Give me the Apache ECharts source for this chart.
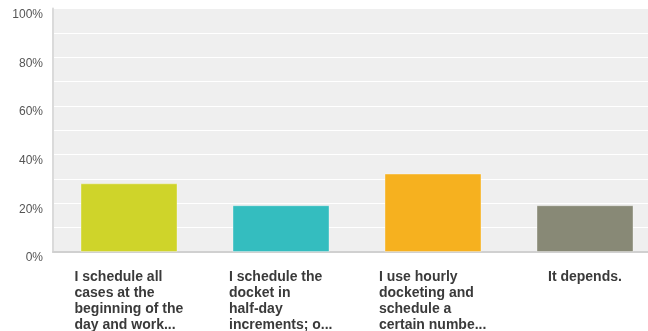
<!DOCTYPE html>
<html>
<head>
<meta charset="utf-8">
<script src="https://cdn.jsdelivr.net/npm/echarts@6/dist/echarts.min.js"></script>
<style>
  html, body { margin: 0; padding: 0; background: #fff; }
  #chart { width: 648px; height: 331px; }
</style>
</head>
<body>
<div id="chart"></div>
<script>
// Answer options (wrapped the way they are shown under each bar)
const categories = [
  'I schedule all\ncases at the\nbeginning of the\nday and work...',
  'I schedule the\ndocket in\nhalf-day\nincrements; o...',
  'I use hourly\ndocketing and\nschedule a\ncertain numbe...',
  'It depends.'
];
// Share of responses, percent
const values = [28.2, 19.2, 32.2, 19.2];
const barColors = ['#cfd42a', '#34bdbf', '#f6b11f', '#888976'];
const yTicks = [0, 20, 40, 60, 80, 100];

const labelFont = 'bold 14px "Liberation Sans", Arial, sans-serif';

// Width of the widest line of each label, so the block is centred under
// its bar while the lines stay left aligned.
const ctx = document.createElement('canvas').getContext('2d');
ctx.font = labelFont;
const blockWidths = categories.map(c =>
  Math.ceil(Math.max(...c.split('\n').map(l => ctx.measureText(l).width)))
);
const rich = {};
blockWidths.forEach((w, i) => {
  rich['r' + i] = {
    width: w, align: 'left', fontSize: 14, fontWeight: 'bold',
    fontFamily: '"Liberation Sans", Arial, sans-serif', color: '#3a3a3a',
    lineHeight: 16
  };
});

const chart = echarts.init(document.getElementById('chart'), null, { renderer: 'canvas' });
chart.setOption({
  animation: false,
  grid: {
    show: true, backgroundColor: '#efefef', borderWidth: 0,
    left: 53, top: 8.5, width: 608, height: 243.5,
    outerBoundsMode: 'none', containLabel: false
  },
  xAxis: {
    type: 'category',
    data: categories,
    axisLine: { show: true, lineStyle: { color: '#d0d0d0', width: 2 } },
    axisTick: { show: false },
    axisLabel: {
      interval: 0, margin: 17,
      formatter: (v, i) => v.split('\n').map(l => '{r' + i + '|' + l + '}').join('\n'),
      rich: rich
    }
  },
  yAxis: {
    type: 'value',
    min: yTicks[0], max: yTicks[yTicks.length - 1], interval: 20,
    axisLine: { show: true, lineStyle: { color: '#dadada', width: 2 } },
    axisTick: { show: false },
    axisLabel: {
      formatter: '{value}%', margin: 10, color: '#555',
      fontSize: 12, fontFamily: '"Liberation Sans", Arial, sans-serif',
      verticalAlign: 'top', lineHeight: 12
    },
    splitLine: { show: true, lineStyle: { color: '#ffffff', width: 1 } },
    minorTick: { show: false, splitNumber: 2 },
    minorSplitLine: { show: true, lineStyle: { color: '#ffffff', width: 1 } }
  },
  series: [{
    type: 'bar',
    barWidth: 97,
    data: values.map((v, i) => ({ value: v, itemStyle: { color: barColors[i] } })),
    itemStyle: { borderColor: 'rgba(255,255,255,0.35)', borderWidth: 1 }
  }]
});
</script>
</body>
</html>
